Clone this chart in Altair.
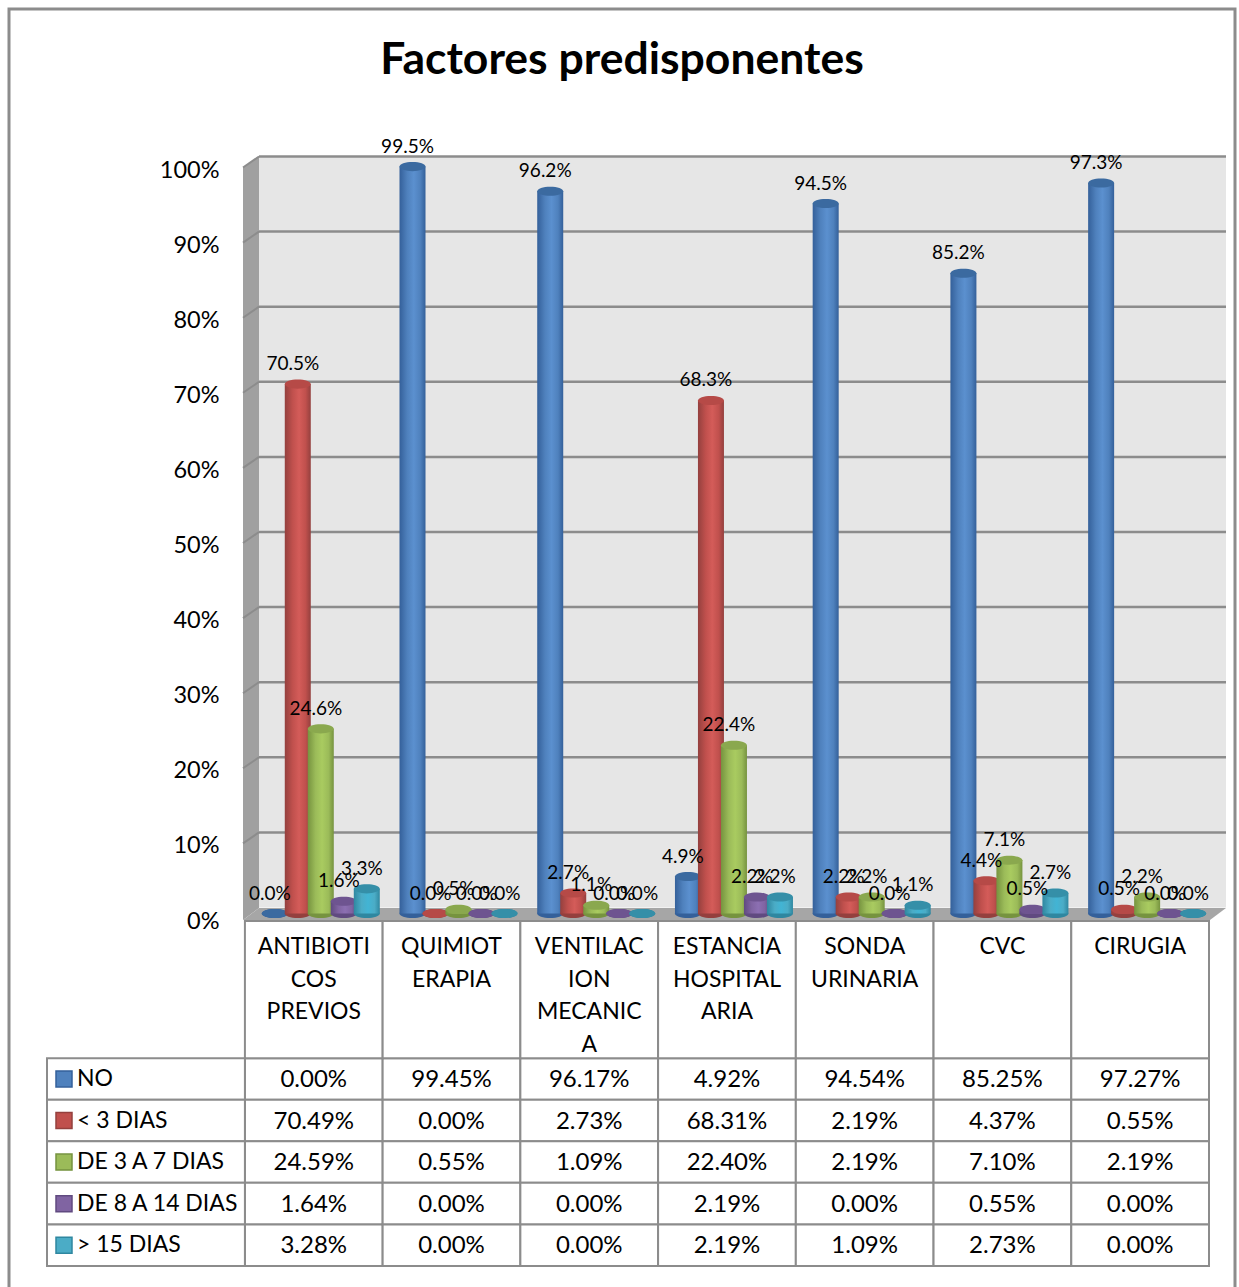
import altair as alt
import pandas as pd

# Chart values (percent of patients per factor and duration)
categories = ["ANTIBIOTI\nCOS\nPREVIOS", "QUIMIOT\nERAPIA", "VENTILAC\nION\nMECANIC\nA",
              "ESTANCIA\nHOSPITAL\nARIA", "SONDA\nURINARIA", "CVC", "CIRUGIA"]
series_names = ["NO", "< 3 DIAS", "DE 3 A 7 DIAS", "DE 8 A 14 DIAS", "> 15 DIAS"]
no_values = [0.00, 99.454, 96.17, 4.92, 94.54, 85.246, 97.27]
lt3_values = [70.49, 0.00, 2.73, 68.31, 2.19, 4.37, 0.546]
d3to7_values = [24.59, 0.546, 1.09, 22.40, 2.19, 7.10, 2.19]
d8to14_values = [1.64, 0.00, 0.00, 2.19, 0.00, 0.546, 0.00]
gt15_values = [3.28, 0.00, 0.00, 2.19, 1.09, 2.73, 0.00]
all_values = [no_values, lt3_values, d3to7_values, d8to14_values, gt15_values]
axis_ticks = [0, 10, 20, 30, 40, 50, 60, 70, 80, 90, 100]

FONT = "Lato"
LINE = "#8c8c8c"
WALL_SHIFT = 1.465  # depth of the back wall, in percentage points
BAR_W = 26
BAR_LIFT = -5
ELLIPSE = "M-1,0 A1,0.35 0 1,1 1,0 A1,0.35 0 1,1 -1,0Z"

# base colour, cap colour, edge shade, lit shade for each series
palette = [
    ("#4f81bd", "#3b6aa0", "#34609a", "#5b90cf"),
    ("#c0504d", "#b64a47", "#94403e", "#d45c59"),
    ("#9bbb59", "#8aa84e", "#76933f", "#a9cb60"),
    ("#8064a2", "#6e5490", "#604a80", "#8c6fb2"),
    ("#4bacc6", "#358fa8", "#2f87a0", "#42b4d4"),
]
bar_offsets = [-39, -16, 7, 30, 53]

x_scale = alt.Scale(domain=[-1.437, 7], range=[47, 1209], nice=False, zero=False, padding=0)
y_scale = alt.Scale(domain=[0, 100], range=[918.5, 167.5], nice=False, padding=0)
t_scale = alt.Scale(domain=[-3.3, 5], range=[921, 1266], nice=False, zero=False, padding=0)
X = alt.X("col:Q", scale=x_scale, axis=None)
T = alt.Y("row:Q", scale=t_scale, axis=None)

# --- page frame and title
frame = alt.Chart(pd.DataFrame({"a": [0]})).mark_rect(fill="white", stroke=LINE, strokeWidth=3).encode(
    x=alt.value(9), x2=alt.value(1235), y=alt.value(9), y2=alt.value(1300))
title = alt.Chart(pd.DataFrame({"t": ["Factores predisponentes"]})).mark_text(
    font=FONT, fontWeight="bold", fontSize=44.5, color="black", align="center", baseline="middle"
).encode(x=alt.value(622), y=alt.value(61), text="t:N")

# --- table grid and text
cells = pd.DataFrame([{"col": c, "col2": c + 1, "row": r, "row2": r + 1}
                      for c in range(7) for r in range(5)]
                     + [{"col": c, "col2": c + 1, "row": -3.3, "row2": 0} for c in range(7)]
                     + [{"col": -1.437, "col2": 0, "row": r, "row2": r + 1} for r in range(5)])
grid = alt.Chart(cells).mark_rect(fill="white", stroke=LINE, strokeWidth=2).encode(
    x=X, x2="col2:Q", y=T, y2="row2:Q")

heads = pd.DataFrame({"col": [c + 0.5 for c in range(7)], "row": [-3.3] * 7, "label": categories})
head_text = alt.Chart(heads).mark_text(
    font=FONT, fontSize=23, color="black", align="center", baseline="top",
    lineBreak="\n", lineHeight=32.5, dy=15
).encode(x=X, y=T, text="label:N")

table_rows = pd.DataFrame([{"col": c + 0.5, "row": r + 0.5, "v": vals[c]}
                           for r, vals in enumerate(all_values) for c in range(7)])
table_text = alt.Chart(table_rows).mark_text(
    font=FONT, fontSize=24, color="black", align="center", baseline="middle", dy=1
).encode(x=X, y=T, text=alt.Text("lab:N")).transform_calculate(
    lab="format(datum.v, '.2f') + '%'")

legend_rows = pd.DataFrame({"row": [r + 0.5 for r in range(5)], "name": series_names,
                            "fillc": [p[0] for p in palette], "edge": [p[2] for p in palette]})
swatches = alt.Chart(legend_rows).mark_point(shape="square", size=256, filled=True, opacity=1, strokeWidth=1.5).encode(
    x=alt.value(64), y=T,
    fill=alt.Fill("fillc:N", scale=None), stroke=alt.Stroke("edge:N", scale=None))
legend_text = alt.Chart(legend_rows).mark_text(
    font=FONT, fontSize=23, color="black", align="left", baseline="middle"
).encode(x=alt.value(77), y=T, text="name:N")

# --- 3D walls
Y = alt.Y("v:Q", scale=y_scale, axis=None)
one = pd.DataFrame({"a": [0]})
back_wall = alt.Chart(pd.DataFrame({"v": [100 + WALL_SHIFT], "v2": [WALL_SHIFT]})).mark_rect(fill="#e6e6e6").encode(
    x=alt.value(259), x2=alt.value(1226), y=Y, y2="v2:Q")
side_wall = alt.Chart(one).mark_point(
    shape="M243,167.5 L259,156 L259,908 L243,920Z", size=4, filled=True, opacity=1, color="#a0a0a0"
).encode(x=alt.value(0), y=alt.value(0))
floor = alt.Chart(one).mark_point(
    shape="M243,920 L259,908 L1226,908 L1210,920Z", size=4, filled=True, opacity=1, color="#a6a6a6"
).encode(x=alt.value(0), y=alt.value(0))

levels = pd.DataFrame({"v": axis_ticks})
levels["back"] = levels["v"] + WALL_SHIFT
wall_lines = alt.Chart(levels[levels.v > 0]).mark_rule(color=LINE, strokeWidth=2.5).encode(
    x=alt.value(259), x2=alt.value(1226), y=alt.Y("back:Q", scale=y_scale, axis=None))
side_lines = alt.Chart(levels[levels.v > 0]).mark_rule(color=LINE, strokeWidth=2).encode(
    x=alt.value(243), x2=alt.value(259), y=Y, y2="back:Q")

# --- y axis carried by its own transparent layer, raised above the frame fill
y_axis = alt.Chart(levels).mark_point(opacity=0).encode(
    x=alt.value(0),
    y=alt.Y("v:Q", scale=y_scale, title=None, axis=alt.Axis(
        values=axis_ticks, offset=-243, domain=False, ticks=False, grid=False, zindex=1,
        labelPadding=24, labelFont=FONT, labelFontSize=23.5, labelColor="black",
        labelOffset=2.5, labelExpr="datum.value + '%'")))

# --- cylinders
bars = []
labels = []
for s, vals in enumerate(all_values):
    base, cap, edge, lit = palette[s]
    df = pd.DataFrame({"col": [c + 0.5 for c in range(7)], "v": vals, "zero": [0] * 7})
    off = bar_offsets[s]
    shade = alt.LinearGradient(
        gradient="linear", x1=0, x2=1, y1=0, y2=0,
        stops=[alt.GradientStop(offset=0, color=edge), alt.GradientStop(offset=0.3, color=base),
               alt.GradientStop(offset=0.55, color=lit), alt.GradientStop(offset=0.8, color=base),
               alt.GradientStop(offset=1, color=edge)])
    solid = alt.Chart(df)
    bars.append(solid.mark_point(shape=ELLIPSE, size=BAR_W ** 2, filled=True, opacity=1, color=edge,
                                 xOffset=off, yOffset=BAR_LIFT).encode(
        x=X, y=alt.Y("zero:Q", scale=y_scale, axis=None)))
    bars.append(solid.mark_bar(orient="vertical", width=BAR_W, fill=shade, xOffset=off,
                               yOffset=BAR_LIFT, y2Offset=BAR_LIFT).encode(
        x=X, y=Y, y2="zero:Q"))
    bars.append(solid.mark_point(shape=ELLIPSE, size=BAR_W ** 2, filled=True, opacity=1, color=cap,
                                 xOffset=off, yOffset=BAR_LIFT).encode(x=X, y=Y))
    labels.append(solid.mark_text(font=FONT, fontSize=19, color="black", align="center", baseline="middle",
                                  dx=off - 5, dy=-25).transform_calculate(
        lab="format(datum.v, '.1f') + '%'").encode(x=X, y=Y, text="lab:N"))

cells_layer = alt.layer(grid)
plot = alt.layer(back_wall, side_wall, floor, wall_lines, side_lines, *bars, *labels)
table = alt.layer(head_text, table_text, swatches, legend_text)
top = alt.layer(frame, title)

chart = alt.layer(top, cells_layer, plot, y_axis, table).resolve_scale(y="independent").properties(
    width=1239, height=1287, padding=0,
    autosize=alt.AutoSizeParams(type="none"),
    background="white",
).configure_view(stroke=None)

chart.save("out.html", embed_options={"renderer": "svg", "actions": False})
